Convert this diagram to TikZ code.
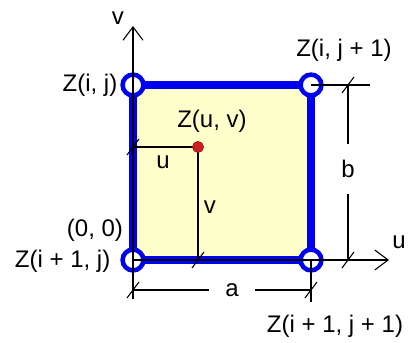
\documentclass[tikz,border=0pt]{standalone}
\usepackage{fontspec}
\setmainfont{Liberation Sans}
\usetikzlibrary{arrows.meta}
\definecolor{cellfill}{HTML}{FFFFCC}
\definecolor{cellblue}{HTML}{0000F0}
\definecolor{dotred}{HTML}{CC1F1F}
\begin{document}
\begin{tikzpicture}[x=0.75pt,y=0.75pt,font=\fontsize{18}{22}\selectfont,
  thinline/.style={line width=0.8pt},
  axis/.style={thinline,-{Straight Barb[length=10pt,width=15pt]}},
  corner/.style={draw=cellblue,line width=3.4pt,fill=white}]
\useasboundingbox (-133,-83) rectangle (275,260);
\coordinate (A) at (0,175);   % Z(i,j)
\coordinate (B) at (178,175); % Z(i,j+1)
\coordinate (C) at (0,0);     % Z(i+1,j)
\coordinate (D) at (178,0);   % Z(i+1,j+1)
\coordinate (P) at (65,113);  % Z(u,v)
\coordinate (vtop) at (0,234);
\coordinate (vbot) at (0,-39);
\coordinate (uend) at (256,0);
\coordinate (dbot) at (178,-42);
\coordinate (bext) at (237,175);
\coordinate (a1) at (0,-30);
\coordinate (a2) at (178,-30);
\coordinate (b1) at (215,0);
\coordinate (b2) at (215,175);
\coordinate (u1) at (0,113);
\coordinate (v1) at (65,0);
% cell
\fill[cellfill] (C) rectangle (B);
\draw[cellblue,line width=6.3pt] (C) rectangle (B);
\foreach \c in {A,B,C,D} \draw[corner] (\c) circle (7.8pt);
% axes and extension lines
\draw[axis] (vbot) -- (vtop);
\draw[axis] (C) -- (uend);
\draw[thinline] (D) -- (dbot);
\draw[thinline] (B) -- (bext);
% labels
\node (vlab) at (-15,242) {v};
\node (ulab) at (266,18) {u};
\node[anchor=east] (zij) at (-11,175) {Z(i, j)};
\node (zij1) at (211,210) {Z(i, j + 1)};
\node (zuv) at (79,139) {Z(u, v)};
\node[anchor=east] (zi1j) at (-18,-1) {Z(i + 1, j)};
\node (zi1j1) at (202,-66) {Z(i + 1, j + 1)};
\node (orig) at (-38,30) {(0, 0)};
\node (ulen) at (30,98) {u};
\node (vlen) at (77,53) {v};
\node[inner xsep=12pt] (alen) at (99,-30) {a};
\node[inner ysep=12pt] (blen) at (215,91) {b};
% dimensions
\draw[thinline] (a1) -- (alen) -- (a2);
\draw[thinline] (b1) -- (blen) -- (b2);
\draw[thinline] (P) -- (u1);
\draw[thinline] (P) -- (v1);
\foreach \t in {a1,a2,b1,b2,u1,v1}
  \draw[thinline] (\t) ++(-6,-8) -- ++(12,16);
\fill[dotred,draw=dotred!60!black] (P) circle (4.2pt);
\end{tikzpicture}
\end{document}
